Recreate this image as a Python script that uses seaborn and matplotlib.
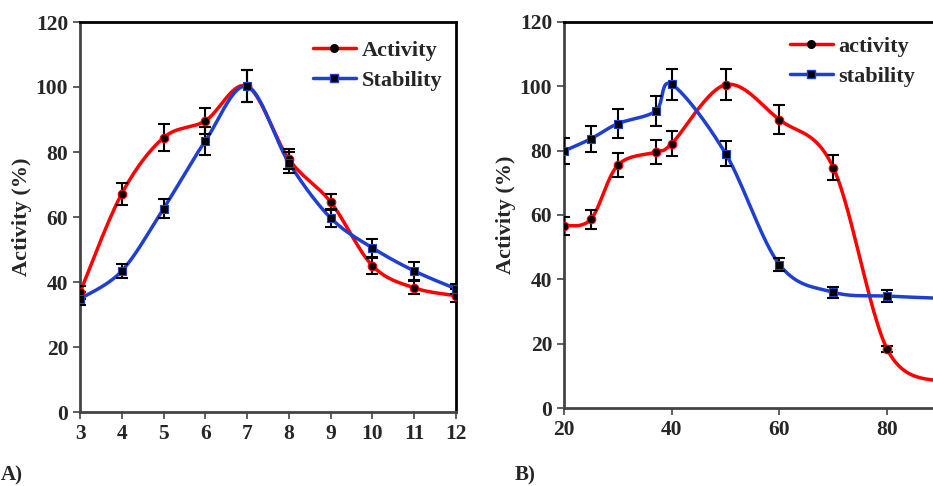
import numpy as np
import pandas as pd
import matplotlib
matplotlib.use("Agg")
import matplotlib.pyplot as plt
import seaborn as sns
from matplotlib.lines import Line2D

sns.set_style("white")
plt.rcParams['font.family'] = ['Liberation Serif', 'DejaVu Serif']
plt.rcParams['font.weight'] = 'bold'

# panel A: pH
ph = [3, 4, 5, 6, 7, 8, 9, 10, 11, 12]
ph_activity = [36.8, 67.2, 84.4, 89.6, 100.2, 77.8, 64.6, 45.0, 38.2, 35.8]
ph_activity_err = [2.0, 3.4, 4.2, 4.0, 4.9, 3.0, 2.5, 2.5, 2.0, 2.0]
ph_stability = [34.8, 43.4, 62.6, 83.4, 100.2, 76.7, 59.7, 50.5, 43.4, 37.9]
ph_stability_err = [2.0, 2.2, 3.0, 4.2, 4.9, 3.2, 2.9, 2.7, 2.8, 1.5]

# panel B: temperature
temp = [20, 25, 30, 37, 40, 50, 60, 70, 80, 90]
temp_activity = [56.7, 58.7, 75.5, 79.6, 82.2, 100.5, 89.6, 74.7, 18.3, 8.0]
temp_activity_err = [2.8, 2.9, 3.8, 3.8, 3.9, 4.9, 4.5, 3.8, 1.0, 1.0]
temp_stability = [79.9, 83.7, 88.4, 92.3, 100.6, 79.1, 44.6, 36.0, 34.8, 34.1]
temp_stability_err = [4.1, 4.1, 4.5, 4.7, 4.9, 3.9, 2.0, 1.7, 1.8, 1.5]

RED = '#ff0000'
BLUE = '#1f3fd0'


def smooth(x, y, n=30):
    # excel-like smoothed line (catmull-rom bezier)
    x = np.asarray(x, float)
    y = np.asarray(y, float)
    px = np.concatenate([[x[0]], x, [x[-1]]])
    py = np.concatenate([[y[0]], y, [y[-1]]])
    t = np.linspace(0, 1, n)
    xs, ys = [], []
    for i in range(1, len(px) - 2):
        p0x, p1x, p2x, p3x = px[i - 1], px[i], px[i + 1], px[i + 2]
        p0y, p1y, p2y, p3y = py[i - 1], py[i], py[i + 1], py[i + 2]
        c1x, c1y = p1x + (p2x - p0x) / 6, p1y + (p2y - p0y) / 6
        c2x, c2y = p2x - (p3x - p1x) / 6, p2y - (p3y - p1y) / 6
        bx = (1 - t) ** 3 * p1x + 3 * (1 - t) ** 2 * t * c1x + 3 * (1 - t) * t ** 2 * c2x + t ** 3 * p2x
        by = (1 - t) ** 3 * p1y + 3 * (1 - t) ** 2 * t * c1y + 3 * (1 - t) * t ** 2 * c2y + t ** 3 * p2y
        xs.append(bx)
        ys.append(by)
    return np.concatenate(xs), np.concatenate(ys)


def draw_series(ax, x, y, err, color, marker):
    sx, sy = smooth(x, y)
    curve = pd.DataFrame({'x': sx, 'y': sy})
    sns.lineplot(data=curve, x='x', y='y', sort=False, color=color, lw=2.5, ax=ax, zorder=2)
    ax.errorbar(x, y, yerr=err, fmt='none', ecolor='black', elinewidth=1.5,
                capsize=4.5, capthick=1.5, zorder=3)
    pts = pd.DataFrame({'x': x, 'y': y})
    sns.scatterplot(data=pts, x='x', y='y', marker=marker, color='black',
                    edgecolor=color, linewidth=0.8, s=38, ax=ax, zorder=4)


def style_axes(ax):
    for side in ['top', 'right']:
        ax.spines[side].set_color('black')
        ax.spines[side].set_linewidth(2)
    for side in ['left', 'bottom']:
        ax.spines[side].set_color('#444444')
        ax.spines[side].set_linewidth(2)
    ax.tick_params(axis='both', direction='out', length=5, width=1.2, color='#444444',
                   labelsize=15.5, bottom=True, left=True)
    for lab in ax.get_xticklabels() + ax.get_yticklabels():
        lab.set_fontweight('bold')
    ax.set_ylim(0, 120)
    ax.set_yticks(range(0, 121, 20))
    ax.set_xlabel('')
    ax.set_ylabel('Activity (%)', fontsize=16, fontweight='bold', labelpad=3)


fig = plt.figure(figsize=(9.33, 4.86), dpi=100)
axA = fig.add_axes([80 / 933, 1 - 412 / 486, 376 / 933, 390 / 486])
axB = fig.add_axes([564 / 933, 1 - 408 / 486, 377 / 933, 386 / 486])

draw_series(axA, ph, ph_activity, ph_activity_err, RED, 'o')
draw_series(axA, ph, ph_stability, ph_stability_err, BLUE, 's')
axA.set_xlim(3, 12)
axA.set_xticks(ph)
style_axes(axA)

draw_series(axB, temp, temp_activity, temp_activity_err, RED, 'o')
draw_series(axB, temp, temp_stability, temp_stability_err, BLUE, 's')
axB.set_xlim(20, 90)
axB.set_xticks([20, 40, 60, 80])
style_axes(axB)


def legend(ax, labels, loc):
    handles = [
        Line2D([0], [0], color=RED, lw=2.5, marker='o', markerfacecolor='black',
               markeredgecolor='black', markersize=5.5),
        Line2D([0], [0], color=BLUE, lw=2.5, marker='s', markerfacecolor='black',
               markeredgecolor=BLUE, markersize=5.5),
    ]
    ax.legend(handles, labels, frameon=False, loc='upper left', bbox_to_anchor=loc,
              prop={'weight': 'bold', 'size': 16}, handlelength=1.95, handletextpad=0.25,
              labelspacing=0.42, borderaxespad=0)


legend(axA, ['Activity', 'Stability'], (0.595, 0.975))
legend(axB, ['activity', 'stability'], (0.575, 0.985))

fig.text(1 / 933, 1 - 485 / 486, 'A)', fontsize=15, fontweight='bold', va='bottom', ha='left')
fig.text(515 / 933, 1 - 485 / 486, 'B)', fontsize=15, fontweight='bold', va='bottom', ha='left')

fig.savefig('out.png', dpi=100)
